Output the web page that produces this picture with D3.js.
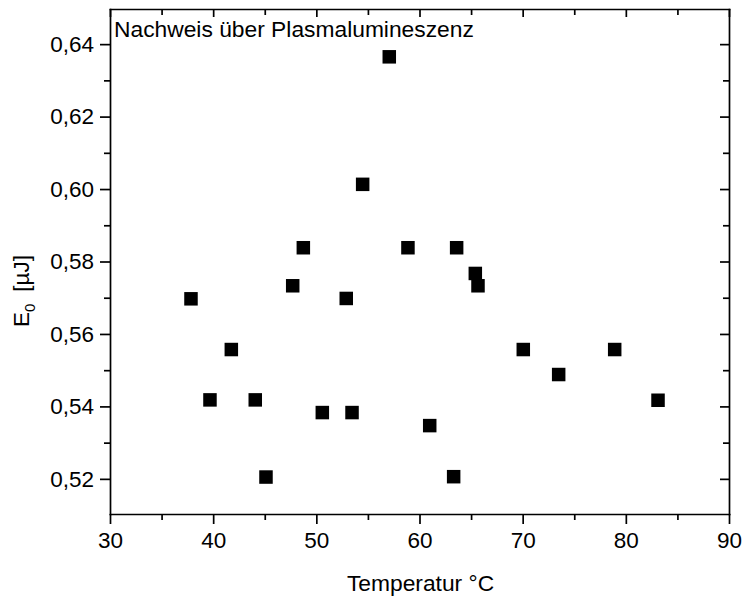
<!DOCTYPE html>
<html>
<head>
<meta charset="utf-8">
<script src="https://cdn.jsdelivr.net/npm/d3@7"></script>
<style>
  body { margin: 0; background: #fff; }
  svg { display: block; font-family: "Liberation Sans", Arial, sans-serif; }
  .axis path, .axis line { stroke: #000; stroke-width: 1.7; }
  .axis text { font-size: 22.5px; fill: #000; font-family: "Liberation Sans", Arial, sans-serif; }
</style>
</head>
<body>
<svg id="chart" width="742" height="599"></svg>
<script>
// Temperatur (°C) and E0 (µJ)
var temperature = [37.85, 39.69, 41.76, 44.08, 45.12, 47.71, 48.74, 50.58, 52.90, 53.46, 54.49,
                   57.07, 58.88, 60.99, 63.31, 63.60, 65.41, 65.67, 70.06, 73.49, 78.92, 83.12];
var energy = [0.5697, 0.5418, 0.5557, 0.5418, 0.5205, 0.5733, 0.5838, 0.5383, 0.5698, 0.5383, 0.6013,
              0.6365, 0.5838, 0.5347, 0.5206, 0.5838, 0.5767, 0.5733, 0.5557, 0.5488, 0.5557, 0.5417];

var xTicks = [30, 40, 50, 60, 70, 80, 90];
var xMinor = [35, 45, 55, 65, 75, 85];
var yTicks = [0.52, 0.54, 0.56, 0.58, 0.60, 0.62, 0.64];
var yMinor = [0.53, 0.55, 0.57, 0.59, 0.61, 0.63];

(function() {
  var plotLeft = 110, plotRight = 729, plotTop = 9, plotBottom = 514;
  var markSize = 13.5;

  var svg = d3.select("#chart");

  var x = d3.scaleLinear().domain([30, 90]).range([plotLeft, plotRight]);
  var y = d3.scaleLinear().domain([0.5103, 0.6497]).range([plotBottom, plotTop]);

  var fmtY = function(d) { return d3.format(".2f")(d).replace(".", ","); };

  // bottom axis
  svg.append("g").attr("class", "axis")
     .attr("transform", "translate(0," + plotBottom + ")")
     .call(d3.axisBottom(x).tickValues(xTicks).tickSize(10).tickPadding(8).tickSizeOuter(0));
  svg.append("g").attr("class", "axis")
     .attr("transform", "translate(0," + plotBottom + ")")
     .call(d3.axisBottom(x).tickValues(xMinor).tickSize(6).tickFormat("").tickSizeOuter(0))
     .select(".domain").remove();

  // top axis (ticks inward)
  svg.append("g").attr("class", "axis")
     .attr("transform", "translate(0," + plotTop + ")")
     .call(d3.axisBottom(x).tickValues(xTicks).tickSize(8).tickFormat("").tickSizeOuter(0));
  svg.append("g").attr("class", "axis")
     .attr("transform", "translate(0," + plotTop + ")")
     .call(d3.axisBottom(x).tickValues(xMinor).tickSize(6).tickFormat("").tickSizeOuter(0))
     .select(".domain").remove();

  // left axis
  svg.append("g").attr("class", "axis")
     .attr("transform", "translate(" + plotLeft + ",0)")
     .call(d3.axisLeft(y).tickValues(yTicks).tickSize(10).tickPadding(6).tickFormat(fmtY).tickSizeOuter(0));
  svg.append("g").attr("class", "axis")
     .attr("transform", "translate(" + plotLeft + ",0)")
     .call(d3.axisLeft(y).tickValues(yMinor).tickSize(6).tickFormat("").tickSizeOuter(0))
     .select(".domain").remove();

  // right axis (ticks inward)
  svg.append("g").attr("class", "axis")
     .attr("transform", "translate(" + plotRight + ",0)")
     .call(d3.axisLeft(y).tickValues(yTicks).tickSize(9).tickFormat("").tickSizeOuter(0));
  svg.append("g").attr("class", "axis")
     .attr("transform", "translate(" + plotRight + ",0)")
     .call(d3.axisLeft(y).tickValues(yMinor).tickSize(6).tickFormat("").tickSizeOuter(0))
     .select(".domain").remove();

  svg.selectAll(".axis .domain").attr("stroke-linecap", "square");

  // points
  svg.selectAll(".pt")
     .data(temperature)
     .enter()
     .append("rect")
       .attr("class", "pt")
       .attr("x", function(d, i) { return x(d) - markSize / 2; })
       .attr("y", function(d, i) { return y(energy[i]) - markSize / 2; })
       .attr("width", markSize)
       .attr("height", markSize)
       .attr("fill", "#000");

  // annotation
  svg.append("text")
     .attr("x", 114)
     .attr("y", 37)
     .attr("font-size", 22.8)
     .text("Nachweis über Plasmalumineszenz");

  // x title
  svg.append("text")
     .attr("x", 420.5)
     .attr("y", 591)
     .attr("text-anchor", "middle")
     .attr("font-size", 22.8)
     .text("Temperatur °C");

  // y title
  var yt = svg.append("text")
     .attr("transform", "translate(29,327) rotate(-90)")
     .attr("font-size", 22.5);
  yt.append("tspan").text("E");
  yt.append("tspan").attr("font-size", 15).attr("dy", 6).text("0");
  yt.append("tspan").attr("dy", -6).attr("dx", 12).text("[µJ]");
})();
</script>
</body>
</html>
